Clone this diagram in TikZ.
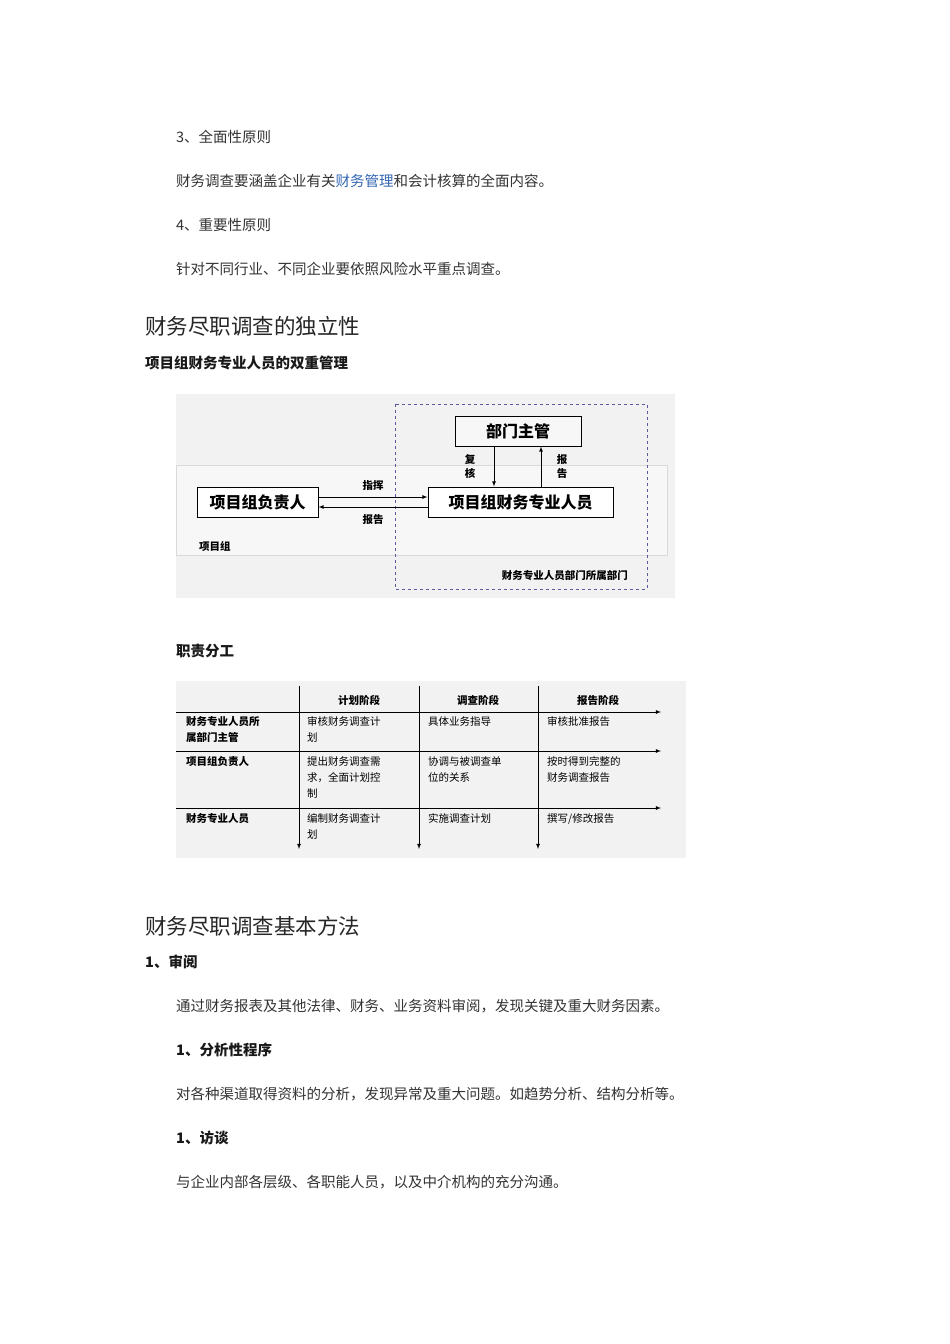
\documentclass[tikz,border=0pt]{standalone}
\usepackage{fontspec}
\setmainfont{Noto Sans CJK SC}
\newfontfamily\cjkb{Noto Sans CJK SC Bold}
\begin{document}
\begin{tikzpicture}[x=1pt,y=-1pt,
  body/.style={anchor=west,inner sep=0,font=\fontsize{14.5}{16}\selectfont,text=black!80},
  bhead/.style={anchor=west,inner sep=0,font=\fontsize{14.5}{16}\selectfont\bfseries,text=black!90},
  bighead/.style={anchor=west,inner sep=0,font=\fontsize{21.5}{24}\selectfont,text=black!85},
  box/.style={draw,line width=1pt,inner sep=0,font=\fontsize{16}{18}\selectfont\bfseries},
  small/.style={inner sep=0,font=\fontsize{10.5}{14}\selectfont\bfseries},
  cell/.style={anchor=north west,inner sep=0,align=left,font=\fontsize{10.5}{16}\selectfont,text width=100pt},
  arr/.style={-latex,line width=0.8pt}]
\useasboundingbox (0,0) rectangle (950,1344);
\fill[white] (0,0) rectangle (950,1344);
\node[body] (t1) at (176,137) {3、全面性原则};
\node[body] (t2) at (176,181) {财务调查要涵盖企业有关\textcolor[rgb]{0.2,0.4,0.7}{财务管理}和会计核算的全面内容。};
\node[body] (t3) at (176,225) {4、重要性原则};
\node[body] (t4) at (176,269) {针对不同行业、不同企业要依照风险水平重点调查。};
\node[bighead] (h1) at (145,326) {财务尽职调查的独立性};
\node[bhead] (h2) at (145,363) {项目组财务专业人员的双重管理};
% diagram 1
\fill[black!5] (176,394) rectangle (675,598);
\draw[black!15,fill=black!3] (176,465) rectangle (667,555);
\draw[dashed,line width=0.9pt,color={rgb,255:red,90;green,90;blue,160}] (395,404) rectangle (647,589);
\node[box,fill=black!3,minimum width=126pt,minimum height=30pt] (bm) at (518,431) {部门主管};
\node[box,fill=white,minimum width=121pt,minimum height=30pt] (pl) at (257.5,502) {项目组负责人};
\node[box,fill=white,minimum width=185pt,minimum height=30pt] (pf) at (520.5,502) {项目组财务专业人员};
\draw[arr] (pl.east|-0,497) -- (pf.west|-0,497) node[midway,above=6pt,small] {指挥};
\draw[arr] (pf.west|-0,507) -- (pl.east|-0,507) node[midway,below=7pt,small] {报告};
\draw[arr] (bm.south-|494,0) -- (pf.north-|494,0);
\draw[arr] (pf.north-|541,0) -- (bm.south-|541,0);
\node[small,align=center] (fh) at (470,467) {复\\核};
\node[small,align=center] (bg) at (562,467) {报\\告};
\node[small,anchor=west] (xmz) at (199,546) {项目组};
\node[small,anchor=east] (bmlab) at (628,576) {财务专业人员部门所属部门};
% table
\node[bhead] (h3) at (176,651) {职责分工};
\fill[black!5] (176,681) rectangle (686,858);
\coordinate (v1t) at (299,686); \coordinate (v1b) at (299,849);
\coordinate (v2t) at (419,686); \coordinate (v2b) at (419,849);
\coordinate (v3t) at (538,686); \coordinate (v3b) at (538,849);
\coordinate (r1l) at (176,712); \coordinate (r1r) at (661,712);
\coordinate (r2l) at (176,751); \coordinate (r2r) at (661,751);
\coordinate (r3l) at (176,808); \coordinate (r3r) at (661,808);
\foreach \a/\b in {v1t/v1b,v2t/v2b,v3t/v3b,r1l/r1r,r2l/r2r,r3l/r3r} \draw[arr] (\a) -- (\b);
\node[small] (c1) at (359,700) {计划阶段};
\node[small] (c2) at (478,700) {调查阶段};
\node[small] (c3) at (598,700) {报告阶段};
\node[cell,font=\fontsize{10.5}{16}\selectfont\bfseries,text width=110pt] (a0) at (186,716) {财务专业人员所\\属部门主管};
\node[cell,font=\fontsize{10.5}{16}\selectfont\bfseries] (b0) at (186,756) {项目组负责人};
\node[cell,font=\fontsize{10.5}{16}\selectfont\bfseries] (d0) at (186,813) {财务专业人员};
\node[cell] (a1) at (307,716) {审核财务调查计\\划};
\node[cell] (a2) at (428,716) {具体业务指导};
\node[cell] (a3) at (547,716) {审核批准报告};
\node[cell] (b1) at (307,756) {提出财务调查需\\求，全面计划控\\制};
\node[cell] (b2) at (428,756) {协调与被调查单\\位的关系};
\node[cell] (b3) at (547,756) {按时得到完整的\\财务调查报告};
\node[cell] (d1) at (307,813) {编制财务调查计\\划};
\node[cell] (d2) at (428,813) {实施调查计划};
\node[cell] (d3) at (547,813) {撰写/修改报告};
% methods
\node[bighead] (h4) at (145,926) {财务尽职调查基本方法};
\node[bhead] (m1) at (145,962) {1、审阅};
\node[body] (m1t) at (176,1006) {通过财务报表及其他法律、财务、业务资料审阅，发现关键及重大财务因素。};
\node[bhead] (m2) at (176,1050) {1、分析性程序};
\node[body] (m2t) at (176,1094) {对各种渠道取得资料的分析，发现异常及重大问题。如趋势分析、结构分析等。};
\node[bhead] (m3) at (176,1138) {1、访谈};
\node[body] (m3t) at (176,1182) {与企业内部各层级、各职能人员，以及中介机构的充分沟通。};
\end{tikzpicture}
\end{document}
